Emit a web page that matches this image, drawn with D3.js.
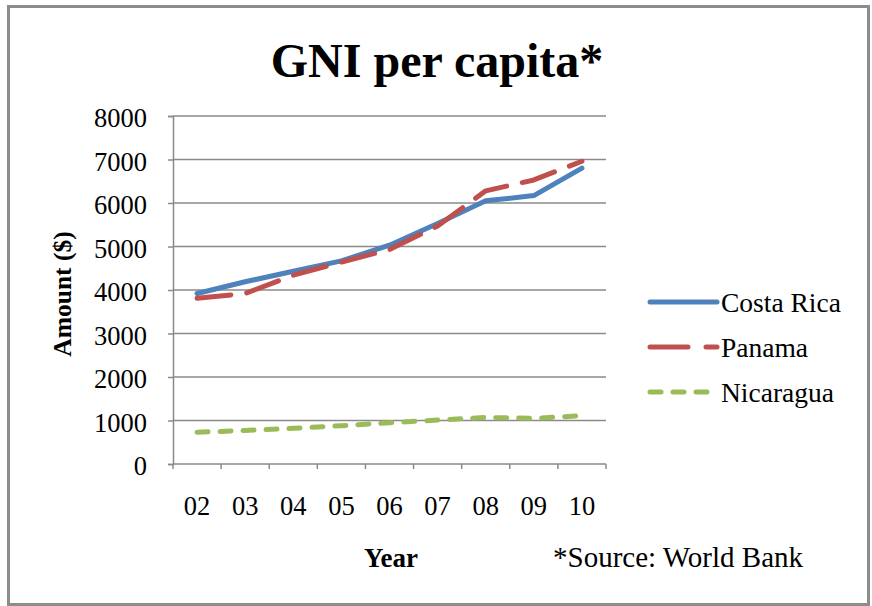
<!DOCTYPE html>
<html>
<head>
<meta charset="utf-8">
<script src="https://cdn.jsdelivr.net/npm/d3@7"></script>
<style>
  html, body { margin: 0; padding: 0; background: #fff; }
  svg { display: block; }
  text { font-family: "Liberation Serif", "Times New Roman", serif; fill: #000; }
</style>
</head>
<body>
<svg id="chart" width="872" height="606"></svg>
<script>
// GNI per capita, US$ (World Bank), 2002–2010
const years = ["02", "03", "04", "05", "06", "07", "08", "09", "10"];
const costaRica = [3920, 4190, 4430, 4670, 5030, 5530, 6050, 6170, 6800];
const panama    = [3810, 3920, 4340, 4640, 4930, 5470, 6280, 6530, 6960];
const nicaragua = [730, 770, 820, 880, 950, 1010, 1070, 1050, 1110];
const seriesNames = ["Costa Rica", "Panama", "Nicaragua"];
const yTicks = [0, 1000, 2000, 3000, 4000, 5000, 6000, 7000, 8000];

const series = [
  { name: seriesNames[0], values: costaRica, color: "#4F81BD", dash: null },
  { name: seriesNames[1], values: panama,    color: "#C0504D", dash: "34,16" },
  { name: seriesNames[2], values: nicaragua, color: "#9BBB59", dash: "11,12" }
];

const svg = d3.select("#chart");
const plot = { left: 173, right: 606, top: 116, bottom: 464 };
const axisColor = "#8a8a8a";

// outer frame
svg.append("rect")
  .attr("x", 8.5).attr("y", 6.5)
  .attr("width", 860).attr("height", 598)
  .attr("fill", "#fff")
  .attr("stroke", "#8c8c8c").attr("stroke-width", 3);

const x = d3.scaleBand().domain(years).range([plot.left, plot.right]).paddingInner(0).paddingOuter(0);
const y = d3.scaleLinear().domain([0, 8000]).range([plot.bottom, plot.top]);

// horizontal gridlines
svg.append("g")
  .selectAll("line")
  .data(yTicks.filter(d => d > 0))
  .join("line")
  .attr("x1", plot.left).attr("x2", plot.right)
  .attr("y1", d => y(d)).attr("y2", d => y(d))
  .attr("stroke", axisColor).attr("stroke-width", 1.5);

// y axis
const yAxis = svg.append("g")
  .attr("transform", `translate(${plot.left},0)`)
  .call(d3.axisLeft(y).tickValues(yTicks).tickSize(5).tickPadding(21).tickFormat(d3.format("d")));
yAxis.select(".domain").attr("stroke", axisColor).attr("stroke-width", 1.5);
yAxis.selectAll(".tick line").attr("stroke", axisColor).attr("stroke-width", 1.5);
yAxis.selectAll(".tick text")
  .style("font-family", "'Liberation Serif', 'Times New Roman', serif")
  .style("font-size", "26.5px").attr("fill", "#000").attr("dy", "0.4em");

// x axis: ticks at category boundaries, labels centred in bands
const xAxisG = svg.append("g").attr("transform", `translate(0,${plot.bottom})`);
xAxisG.append("line")
  .attr("x1", plot.left).attr("x2", plot.right)
  .attr("stroke", axisColor).attr("stroke-width", 1.5);
const boundaries = years.map(d => x(d) + x.bandwidth()).concat([x(years[0])]);
xAxisG.selectAll("line.tk")
  .data(boundaries)
  .join("line")
  .attr("class", "tk")
  .attr("x1", d => d).attr("x2", d => d)
  .attr("y1", 0).attr("y2", 5)
  .attr("stroke", axisColor).attr("stroke-width", 1.5);
xAxisG.selectAll("text")
  .data(years)
  .join("text")
  .attr("x", d => x(d) + x.bandwidth() / 2)
  .attr("y", 51)
  .attr("text-anchor", "middle")
  .style("font-size", "26.5px")
  .text(d => d);

// lines
const line = d3.line()
  .x((d, i) => x(years[i]) + x.bandwidth() / 2)
  .y(d => y(d));

series.forEach(s => {
  svg.append("path")
    .datum(s.values)
    .attr("d", line)
    .attr("fill", "none")
    .attr("stroke", s.color)
    .attr("stroke-width", 5)
    .attr("stroke-linecap", "round")
    .attr("stroke-linejoin", "round")
    .attr("stroke-dasharray", s.dash);
});

// title
svg.append("text")
  .attr("x", 437).attr("y", 77)
  .attr("text-anchor", "middle")
  .style("font-size", "48px").style("font-weight", "bold")
  .text("GNI per capita*");

// axis titles
svg.append("text")
  .attr("transform", "translate(71,294) rotate(-90)")
  .attr("text-anchor", "middle")
  .style("font-size", "25.5px").style("font-weight", "bold")
  .text("Amount ($)");

svg.append("text")
  .attr("x", 391).attr("y", 567)
  .attr("text-anchor", "middle")
  .style("font-size", "27px").style("font-weight", "bold")
  .text("Year");

svg.append("text")
  .attr("x", 553).attr("y", 567)
  .style("font-size", "29px")
  .text("*Source: World Bank");

// legend
const legend = svg.append("g");
const legendY = [302, 347, 392];
series.forEach((s, i) => {
  legend.append("line")
    .attr("x1", 650).attr("x2", 717)
    .attr("y1", legendY[i]).attr("y2", legendY[i])
    .attr("stroke", s.color).attr("stroke-width", 5)
    .attr("stroke-linecap", "round")
    .attr("stroke-dasharray", i === 1 ? "38,18" : s.dash);
  legend.append("text")
    .attr("x", 721).attr("y", legendY[i] + 10)
    .style("font-size", "27.5px")
    .text(s.name);
});
</script>
</body>
</html>
